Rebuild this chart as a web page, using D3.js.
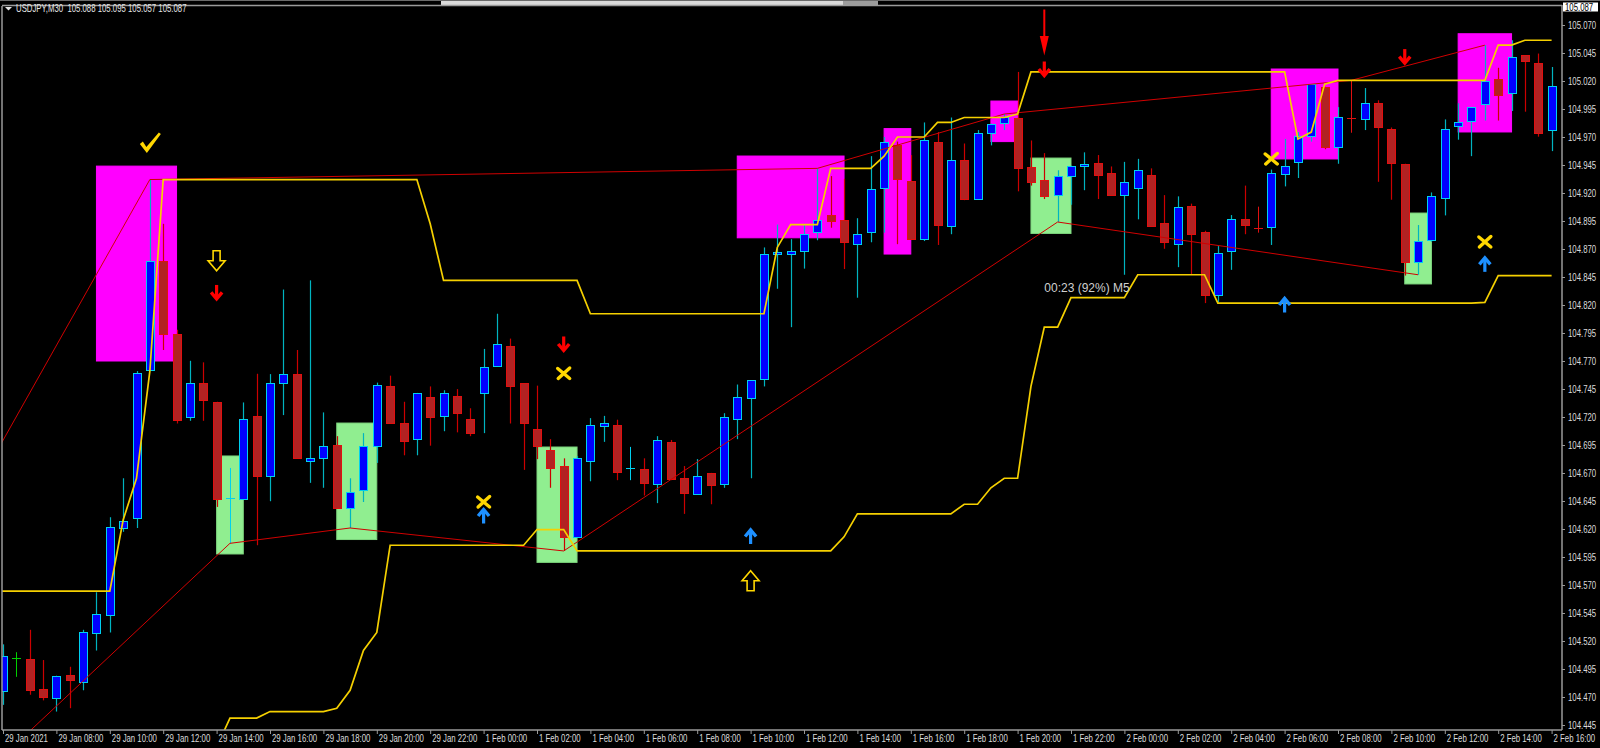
<!DOCTYPE html>
<html><head><meta charset="utf-8">
<script src="https://cdn.jsdelivr.net/npm/d3@7"></script>
<style>html,body{margin:0;padding:0;background:#000;overflow:hidden}svg{display:block}</style>
</head><body>
<svg id="chart" width="1600" height="748"></svg>
<script>
// ---------- DATA ----------
const symbolHeader = "USDJPY,M30  105.088 105.095 105.057 105.087";
const lastPriceLabel = "105.087";
const timerText = "00:23 (92%) M5";
const timerPos = [78, 104.832];

const opens = [104.475,104.505,104.504,104.477,104.469,104.490,104.4835,104.527,104.5433,104.6209,104.6301,104.7617,104.859,104.7945,104.7203,104.7507,104.7336,104.6472,104.6465,104.721,104.667,104.7507,104.7583,104.6807,104.6834,104.695,104.6387,104.6551,104.6944,104.748,104.7149,104.7002,104.7381,104.7207,104.7388,104.7186,104.7415,104.7654,104.7832,104.750,104.7097,104.6909,104.6762,104.613,104.6803,104.7121,104.7125,104.6745,104.6739,104.6598,104.6978,104.6653,104.651,104.6701,104.6598,104.7179,104.7367,104.7538,104.8652,104.8654,104.8678,104.8849,104.900,104.8959,104.8747,104.8849,104.9242,104.9625,104.9307,104.8788,104.9652,104.8907,104.9498,104.9146,104.9734,104.9823,104.9874,104.943,104.9317,104.9181,104.9351,104.9444,104.9464,104.9379,104.9181,104.9242,104.9362,104.8931,104.8747,104.9088,104.8849,104.8292,104.8678,104.8965,104.8892,104.8897,104.9369,104.9478,104.971,105.0148,104.9608,104.9873,104.9864,105.0001,104.9772,104.9461,104.8583,104.8781,104.9153,104.9796,104.9847,104.9994,105.0216,105.0093,105.0428,105.0359,104.9762];
const highs = [104.517,104.510,104.530,104.503,104.489,104.497,104.530,104.5635,104.6305,104.6653,104.761,104.932,104.8925,104.7979,104.7702,104.7688,104.7336,104.6745,104.733,104.7586,104.7583,104.8338,104.7798,104.842,104.7241,104.7029,104.6653,104.7056,104.7507,104.7569,104.7336,104.7415,104.7473,104.7439,104.7449,104.7278,104.7808,104.8122,104.790,104.750,104.748,104.7002,104.6831,104.6851,104.719,104.721,104.7176,104.6933,104.6831,104.7029,104.6995,104.6762,104.6824,104.6701,104.7234,104.749,104.7528,104.8714,104.8918,104.8788,104.8924,104.942,104.9351,104.9327,104.8975,104.9529,104.970,104.9659,104.9539,104.983,104.9744,104.9874,104.9642,104.9762,104.982,104.9905,105.0281,104.9669,104.9556,104.9403,104.9444,104.9563,104.9539,104.9437,104.9478,104.9505,104.942,104.9181,104.917,104.9105,104.8863,104.8726,104.9003,104.9266,104.9078,104.9409,104.9683,104.9744,105.0172,105.0148,104.9967,105.0206,105.0137,105.0028,104.9785,104.9461,104.8914,104.9205,104.9857,105.0001,104.9967,105.052,105.0318,105.0564,105.0428,105.0445,105.0325];
const lows = [104.463,104.488,104.472,104.467,104.457,104.460,104.476,104.5115,104.5276,104.6175,104.6209,104.7617,104.7798,104.7142,104.7166,104.7166,104.6397,104.6072,104.6465,104.6055,104.6448,104.7217,104.6831,104.6612,104.6568,104.6387,104.6209,104.6441,104.679,104.7138,104.6858,104.6858,104.6944,104.7073,104.7063,104.7029,104.7056,104.7654,104.7142,104.6728,104.6824,104.6568,104.6004,104.613,104.6626,104.6978,104.6636,104.6636,104.6499,104.6431,104.6636,104.6335,104.651,104.6421,104.6568,104.7002,104.6653,104.7473,104.8345,104.8002,104.8525,104.8778,104.889,104.8521,104.8265,104.876,104.8846,104.8743,104.8788,104.8771,104.8736,104.8832,104.9136,104.914,104.9625,104.9762,104.9215,104.9266,104.9146,104.8941,104.9095,104.9225,104.9146,104.9181,104.847,104.8965,104.8907,104.8702,104.8538,104.847,104.8217,104.8224,104.8514,104.8832,104.8846,104.8736,104.9259,104.9334,104.9659,104.9591,104.9461,104.9738,104.9762,104.930,104.914,104.8463,104.847,104.8764,104.900,104.9676,104.9529,104.9847,104.9847,104.9932,104.9926,104.9703,104.9574];
const closes = [104.507,104.505,104.476,104.470,104.489,104.485,104.5276,104.544,104.6216,104.6274,104.7589,104.859,104.7941,104.7176,104.7507,104.7354,104.6472,104.6478,104.7183,104.6677,104.750,104.7583,104.6831,104.6834,104.694,104.6387,104.6527,104.6944,104.749,104.7149,104.6988,104.7415,104.720,104.7412,104.7234,104.7053,104.7647,104.7856,104.7473,104.7142,104.694,104.6749,104.613,104.6834,104.7125,104.7149,104.6711,104.6747,104.6612,104.6991,104.6643,104.6523,104.6677,104.6592,104.7203,104.7381,104.7528,104.8655,104.8669,104.8678,104.8832,104.8959,104.8948,104.876,104.8832,104.9232,104.9652,104.9324,104.8788,104.9669,104.8918,104.9498,104.9146,104.9738,104.982,104.9881,104.942,104.930,104.917,104.9351,104.9444,104.9461,104.9362,104.9181,104.930,104.9409,104.8907,104.876,104.9078,104.8832,104.8292,104.8668,104.8965,104.8917,104.8888,104.9375,104.9444,104.971,105.0172,104.9615,104.9881,104.9869,105.0001,104.9785,104.9464,104.8583,104.8771,104.9174,104.9772,104.983,104.9967,105.0199,105.0079,105.0411,105.0376,104.9738,105.0154];

const yTickValues = [105.070,105.045,105.020,104.995,104.970,104.945,104.920,104.895,104.870,104.845,104.820,104.795,104.770,104.745,104.720,104.695,104.670,104.645,104.620,104.595,104.570,104.545,104.520,104.495,104.470,104.445];
const xTickBars = [0,4,8,12,16,20,24,28,32,36,40,44,48,52,56,60,64,68,72,76,80,84,88,92,96,100,104,108,112,116];
const xTickLabels = ["29 Jan 2021","29 Jan 08:00","29 Jan 10:00","29 Jan 12:00","29 Jan 14:00","29 Jan 16:00","29 Jan 18:00","29 Jan 20:00","29 Jan 22:00","1 Feb 00:00","1 Feb 02:00","1 Feb 04:00","1 Feb 06:00","1 Feb 08:00","1 Feb 10:00","1 Feb 12:00","1 Feb 14:00","1 Feb 16:00","1 Feb 18:00","1 Feb 20:00","1 Feb 22:00","2 Feb 00:00","2 Feb 02:00","2 Feb 04:00","2 Feb 06:00","2 Feb 08:00","2 Feb 10:00","2 Feb 12:00","2 Feb 14:00","2 Feb 16:00"];

// channel lines (bar, price) vertices
const channelUpper = [[-1,104.5646],[8,104.5646],[9,104.628],[10,104.6653],[11,104.761],[12,104.932],[31,104.932],[32,104.8925],[33,104.842],[43,104.842],[44,104.8122],[57,104.8122],[58,104.8714],[59,104.8918],[61,104.8918],[62,104.942],[65,104.942],[66,104.9529],[67,104.970],[69,104.970],[70,104.983],[71,104.983],[72,104.9874],[75,104.9874],[76,104.9905],[77,105.0281],[96,105.0281],[97,104.9683],[98,104.9744],[99,105.0172],[100,105.0206],[111,105.0206],[112,105.052],[113,105.052],[114,105.0564],[116,105.0564]];
const channelLower = [[-1,104.40],[15,104.40],[16,104.425],[17,104.4512],[19,104.4512],[20,104.457],[24,104.457],[25,104.460],[26,104.476],[27,104.5115],[28,104.5276],[29,104.6055],[39,104.6055],[40,104.6195],[42,104.6195],[43,104.6004],[62,104.6004],[63,104.613],[64,104.6335],[71,104.6335],[72,104.6421],[73,104.6421],[74,104.6568],[75,104.6653],[76,104.6653],[77,104.7473],[78,104.8002],[79,104.8002],[80,104.8265],[84,104.8265],[85,104.847],[90,104.847],[91,104.8217],[110,104.8217],[111,104.8224],[112,104.8463],[116,104.8463]];
const trendUpper = [[-1,104.678],[11,104.932],[61,104.942],[75,104.9905],[101,105.0206],[111,105.052]];
const trendLower = [[-1,104.406],[17,104.6072],[26,104.6209],[42,104.6004],[79,104.8941],[106,104.847]];

// zones: [startBar, endBar, top, bottom]
const zonesMagenta = [[7,13,104.944,104.770],[55,63,104.953,104.880],[66,68,104.9775,104.8655],[74,76,105.0021,104.9659],[95,100,105.0307,104.9504],[109,113,105.0622,104.9745]];
const zonesGreen = [[16,18,104.6852,104.5977],[25,28,104.7146,104.6106],[40,43,104.6932,104.5902],[77,80,104.9512,104.8839],[105,107,104.9021,104.8388]];

// signal markers: [bar, price]
const checkMarks = [[11,104.9646]];
const hollowDown = [[16,104.8595]];
const hollowUp = [[56,104.5738]];
const redDown = [[16,104.8312],[42,104.7852],[78,105.0307],[105,105.0418]];
const blueUp = [[36,104.6316],[56,104.6133],[96,104.820],[111,104.8563]];
const crosses = [[42,104.7589],[36,104.6441],[95,104.9504],[111,104.8763]];
const longDown = [[78,105.0633]];

// ---------- SCALES ----------
const svg = d3.select("#chart");
const W = 1600, H = 748;
const plotL = 2, plotR = 1562, plotT = 6, plotB = 730;
const x = d3.scaleLinear().domain([0,116]).range([3, 3 + 13.35*116]);
const y = d3.scaleLinear().domain([104.445,105.070]).range([725,25]);

const bullFill = "#0000ff", bullEdge = "#00d0f0", bullWick = "#00b4c0";
const bearFill = "#b22222", bearEdge = "#e01010", bearWick = "#cc0000";
const yellow = "#f5d000", gold = "#ffd700";
const axisText = "#dcdcdc", frame = "#9a9a9a";
const FONT = "'Liberation Sans', Arial, sans-serif";
const SX = 0.71; // horizontal compression of the small MT4-style labels

svg.append("rect").attr("width",W).attr("height",H).attr("fill","#000");

const defs = svg.append("defs");
defs.append("clipPath").attr("id","clip").append("rect")
  .attr("x",plotL).attr("y",plotT).attr("width",plotR-plotL).attr("height",plotB-plotT);

const plot = svg.append("g").attr("clip-path","url(#clip)");

// zones
function drawZones(data, color, stroke){
  plot.append("g").selectAll("rect").data(data).join("rect")
    .attr("x", d=>x(d[0])).attr("width", d=>x(d[1])-x(d[0]))
    .attr("y", d=>y(d[2])).attr("height", d=>y(d[3])-y(d[2]))
    .attr("fill", color).attr("stroke", stroke).attr("stroke-width",1);
}
drawZones(zonesMagenta, "#ff00ff", "#ff00ff");
drawZones(zonesGreen, "#90ee90", "#7ed67e");

// candles
const bars = opens.map((o,i)=>({i, o, h:highs[i], l:lows[i], c:closes[i]}));
const cg = plot.append("g");
bars.forEach(b=>{
  const cx = Math.round(x(b.i));
  const diff = b.c - b.o;
  const doji = Math.abs(diff) < 0.0008;
  let wickCol, edgeCol, fillCol;
  if (doji) {
    const col = diff === 0 ? "#00d000" : (diff > 0 ? bullEdge : bearEdge);
    cg.append("line").attr("x1",cx+0.5).attr("x2",cx+0.5)
      .attr("y1",y(b.h)).attr("y2",y(b.l)).attr("stroke",col).attr("stroke-width",1);
    const yy = Math.round(y((b.o+b.c)/2))+0.5;
    cg.append("line").attr("x1",cx-4).attr("x2",cx+5).attr("y1",yy).attr("y2",yy)
      .attr("stroke",col).attr("stroke-width",1);
    return;
  }
  if (diff > 0) { wickCol = bullWick; edgeCol = bullEdge; fillCol = bullFill; }
  else { wickCol = bearWick; edgeCol = bearEdge; fillCol = bearFill; }
  cg.append("line").attr("x1",cx+0.5).attr("x2",cx+0.5)
    .attr("y1",y(b.h)).attr("y2",y(b.l)).attr("stroke",wickCol).attr("stroke-width",1.2);
  const top = Math.round(y(Math.max(b.o,b.c)));
  const bot = Math.round(y(Math.min(b.o,b.c)));
  cg.append("rect").attr("x",cx-4+0.5).attr("width",8)
    .attr("y",top+0.5).attr("height",Math.max(1,bot-top))
    .attr("fill",fillCol).attr("stroke",edgeCol).attr("stroke-width",1);
});

// lines
const line = d3.line().x(d=>x(d[0])).y(d=>y(d[1]));
plot.append("path").datum(trendUpper).attr("d",line).attr("fill","none").attr("stroke","#d00000").attr("stroke-width",1);
plot.append("path").datum(trendLower).attr("d",line).attr("fill","none").attr("stroke","#d00000").attr("stroke-width",1);
plot.append("path").datum(channelUpper).attr("d",line).attr("fill","none").attr("stroke",yellow).attr("stroke-width",1.7);
plot.append("path").datum(channelLower).attr("d",line).attr("fill","none").attr("stroke",yellow).attr("stroke-width",1.7);

// markers
const mk = plot.append("g");
function place(data){ return mk.append("g").selectAll("g").data(data).join("g")
  .attr("transform", d=>`translate(${x(d[0])},${y(d[1])})`); }

place(checkMarks).append("path")
  .attr("d","M-10,1 L-7,-1.5 L-3.5,4 L9,-10.5 L11,-9 L-3,10 Z").attr("fill",gold);

place(hollowDown).append("path")
  .attr("d","M-3.5,-10 H3.5 V0 H8.5 L0,10 L-8.5,0 H-3.5 Z")
  .attr("fill","none").attr("stroke",gold).attr("stroke-width",1.6).attr("stroke-linejoin","miter");
place(hollowUp).append("path")
  .attr("d","M-3.5,10 H3.5 V0 H8.5 L0,-10 L-8.5,0 H-3.5 Z")
  .attr("fill","none").attr("stroke",gold).attr("stroke-width",1.6).attr("stroke-linejoin","miter");

const rd = place(redDown);
rd.append("line").attr("x1",0).attr("x2",0).attr("y1",-7.5).attr("y2",5).attr("stroke","#ff0000").attr("stroke-width",3.2);
rd.append("path").attr("d","M-5.5,0 L0,6.5 L5.5,0").attr("fill","none").attr("stroke","#ff0000").attr("stroke-width",3.4);

const bu = place(blueUp);
bu.append("line").attr("x1",0).attr("x2",0).attr("y1",7.5).attr("y2",-5).attr("stroke","#1e90ff").attr("stroke-width",3.2);
bu.append("path").attr("d","M-5.5,0 L0,-6.5 L5.5,0").attr("fill","none").attr("stroke","#1e90ff").attr("stroke-width",3.4);

place(crosses).append("path").attr("d","M-6,-5 L6,5 M6,-5.5 L-5.5,5")
  .attr("stroke",gold).attr("stroke-width",3.4).attr("stroke-linecap","round").attr("fill","none");

const ld = place(longDown);
ld.append("line").attr("x1",0).attr("x2",0).attr("y1",-23).attr("y2",16).attr("stroke","#ff0000").attr("stroke-width",2);
ld.append("path").attr("d","M-4.5,3.5 L4.5,3.5 L0,23 Z").attr("fill","#ff0000");

// timer text
plot.append("text").attr("x", x(timerPos[0])).attr("y", y(timerPos[1]))
  .attr("fill","#cfcfcf").attr("font-family",FONT).attr("font-size",12).text(timerText);

// ---------- FRAME ----------
svg.append("line").attr("x1",0).attr("x2",W).attr("y1",0.5).attr("y2",0.5).attr("stroke","#6a6a6a");
svg.append("rect").attr("x",441).attr("y",1).attr("width",402).attr("height",4.5).attr("fill","#dadada");
svg.append("rect").attr("x",843).attr("y",1).attr("width",35).attr("height",4.5).attr("fill","#9c9c9c");
svg.append("line").attr("x1",plotL).attr("x2",plotR).attr("y1",plotT-0.5).attr("y2",plotT-0.5).attr("stroke",frame).attr("stroke-width",1.5);
svg.append("line").attr("x1",plotL).attr("x2",plotL).attr("y1",plotT).attr("y2",plotB).attr("stroke",frame).attr("stroke-width",1.5);
svg.append("line").attr("x1",plotR).attr("x2",plotR).attr("y1",plotT-1).attr("y2",plotB).attr("stroke",frame).attr("stroke-width",1.5);
svg.append("line").attr("x1",plotL).attr("x2",plotR).attr("y1",plotB).attr("y2",plotB).attr("stroke",frame).attr("stroke-width",1.5);

// right axis
const yAxis = d3.axisRight(y).tickValues(yTickValues).tickFormat(d3.format(".3f")).tickSize(3).tickPadding(3);
const ya = svg.append("g").attr("transform",`translate(${plotR},0)`).call(yAxis);
ya.select(".domain").remove();
ya.selectAll("line").attr("stroke",frame);
ya.selectAll("text").attr("fill",axisText).attr("font-family",FONT).attr("font-size",11)
  .attr("x",0).attr("transform",`translate(6,0) scale(${SX},1)`);

// bottom axis
const xAxis = d3.axisBottom(x).tickValues(xTickBars).tickFormat((d,i)=>xTickLabels[i]).tickSize(4).tickPadding(0);
const xa = svg.append("g").attr("transform",`translate(0,${plotB})`).call(xAxis);
xa.select(".domain").remove();
xa.selectAll("line").attr("stroke",frame);
xa.selectAll("text").attr("fill",axisText).attr("font-family",FONT).attr("font-size",11)
  .attr("text-anchor","start").attr("transform",`translate(1.5,0) scale(${SX},1)`);

// last price label
svg.append("rect").attr("x",1563).attr("y",2.5).attr("width",35).attr("height",9).attr("fill","#ffffff");
svg.append("text").attr("transform",`translate(1565,10.8) scale(${SX},1)`).attr("fill","#000")
  .attr("font-family",FONT).attr("font-size",11).text(lastPriceLabel);

// header
svg.append("path").attr("d","M5,7 L12,7 L8.5,10.5 Z").attr("fill","#e6e6e6");
svg.append("text").attr("transform",`translate(16,11.8) scale(${SX},1)`).attr("fill","#e6e6e6")
  .attr("font-family",FONT).attr("font-size",11).style("white-space","pre").text(symbolHeader);
</script>
</body></html>
